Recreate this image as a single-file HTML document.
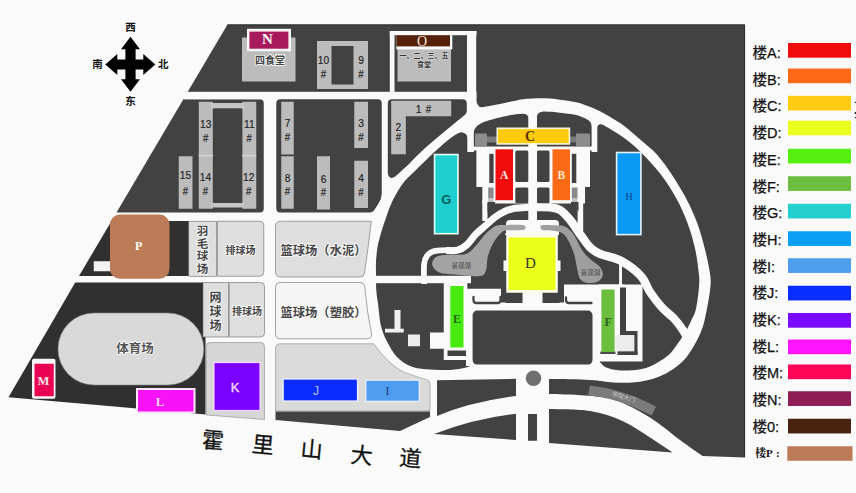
<!DOCTYPE html>
<html><head><meta charset="utf-8"><title>校园地图</title>
<style>html,body{margin:0;padding:0;background:#fafafa}svg{display:block}</style></head>
<body><svg width="856" height="493" viewBox="0 0 856 493">
<rect width="856" height="493" fill="#fafafa"/>
<path d="M227.5,24.5L745.0,24.5L745.0,457.5L702.5,456.0C698.8,453.3 688.8,446.4 680.0,440.0C671.2,433.6 660.8,424.2 650.0,417.5C639.2,410.8 625.8,403.7 615.0,400.0C604.2,396.3 596.0,396.5 585.0,395.5C574.0,394.5 555.0,394.2 549.0,394.0L549.0,375.0L437.0,375.0L437.0,300.0L476.0,300.0L476.0,92.0L187.6,92.0Z" fill="#424242" />
<path d="M227.3,24.9 H744.6 V457" fill="none" stroke="#2a2a2a" stroke-width="0.9"/>
<path d="M183.4,99.25 L259.75,99.25 Q263.75,99.25 263.75,103.25 L263.75,208.5 Q263.75,212.5 259.75,212.5 L116.5,212.5 Z" fill="#424242" />
<path d="M111.5,221.0L189.0,221.0L189.0,276.0L79.0,276.0Z" fill="#303030" />
<path d="M75.2,282.5L203.0,282.5L203.0,337.0L205.5,337.0L205.5,414.5L8.5,397.3Z" fill="#303030" />
<rect x="184.64" y="91.80" width="291.86" height="7.45" fill="#fafafa" />
<rect x="389.80" y="31.00" width="86.70" height="4.20" fill="#fafafa" />
<rect x="389.80" y="31.00" width="4.70" height="62.00" fill="#fafafa" />
<rect x="467.00" y="31.00" width="9.20" height="81.00" fill="#fafafa" />
<path d="M380.0,190.0C384.3,183.9 390.8,180.8 395.6,176.5C400.4,172.2 404.2,168.7 409.0,164.0C413.8,159.3 418.3,154.3 424.6,148.6C430.9,142.9 440.3,135.2 447.0,129.6C453.7,124.0 460.0,118.7 464.8,115.0C469.6,111.3 473.0,108.9 476.0,107.6C479.0,106.3 479.5,107.7 483.0,107.2C486.5,106.7 491.8,105.6 497.0,104.6C502.2,103.6 509.3,101.9 514.0,101.0C518.7,100.1 519.7,99.5 525.0,99.0C530.3,98.5 540.2,98.2 546.0,98.3C551.8,98.4 555.0,99.0 560.0,99.7C565.0,100.4 570.8,100.9 576.2,102.2C581.6,103.5 587.0,105.5 592.4,107.8C597.8,110.1 603.2,112.9 608.6,116.0C614.0,119.1 619.5,122.5 624.9,126.5C630.3,130.6 635.6,135.6 641.0,140.3C646.4,145.0 652.2,149.2 657.3,154.9C662.4,160.6 666.8,167.0 671.6,174.3C676.4,181.6 682.0,190.6 686.3,198.7C690.6,206.8 694.2,214.9 697.2,223.0C700.2,231.1 702.5,239.6 704.5,247.4C706.5,255.2 708.4,263.9 709.4,270.0C710.4,276.1 711.0,277.9 710.6,284.3C710.2,290.8 708.7,300.6 707.0,308.7C705.3,316.8 704.0,324.9 700.5,333.0C697.0,341.1 691.4,351.1 686.3,357.4C681.2,363.7 675.4,367.5 670.0,371.0C664.6,374.5 659.8,376.6 654.0,378.5C648.2,380.4 641.8,381.6 635.0,382.3C628.2,383.0 620.9,382.9 613.4,382.5C605.9,382.1 600.7,380.6 590.0,380.0C579.3,379.4 561.3,379.2 549.0,379.0C536.7,378.8 534.7,378.4 516.0,379.0C497.3,379.6 453.8,383.0 437.0,382.5C420.2,382.0 421.2,378.1 415.0,376.0C408.8,373.9 405.0,373.1 400.0,370.0C395.0,366.9 389.4,361.9 385.0,357.5C380.6,353.1 377.2,353.3 373.8,343.8C370.2,334.2 365.6,315.6 364.0,300.0C362.4,284.4 363.0,264.5 364.0,250.0C365.0,235.5 367.3,223.0 370.0,213.0C372.7,203.0 375.7,196.1 380.0,190.0Z" fill="#fafafa" />
<path d="M280.25,99.25 H377.75 Q381.75,99.25 381.75,103.25 V194 Q381.5,199 378.5,203.5 L374,210.5 Q372.5,212.5 370,212.5 H280.25 Q276.25,212.5 276.25,208.5 V103.25 Q276.25,99.25 280.25,99.25 Z" fill="#424242" />
<path d="M391.8,99.25 H462.5 Q466.8,99.25 466.8,103.5 V111 Q466.8,113.5 464.8,115C461.8,117.4 453.7,124.0 447.0,129.6C440.3,135.2 430.9,142.9 424.6,148.6C418.3,154.3 413.8,159.4 409.0,164.0C404.2,168.6 397.8,174.2 395.6,176.3Q391,180 388.6,176 Q387.8,174.5 387.8,172 V103.25 Q387.8,99.25 391.8,99.25 Z" fill="#424242" />
<path d="M468.0,133.0C469.3,131.8 472.3,127.9 476.0,125.7C479.7,123.5 484.2,121.8 490.0,120.0C495.8,118.2 505.6,116.0 511.0,115.0C516.4,114.0 517.8,114.2 522.3,113.7C526.8,113.2 534.0,112.3 537.7,112.0C541.4,111.7 541.0,111.5 544.7,111.6C548.4,111.7 554.8,112.1 560.0,112.7C565.2,113.3 571.3,113.8 576.2,115.0C581.1,116.2 585.3,118.6 589.2,120.0C593.1,121.4 596.5,121.9 599.7,123.2C602.9,124.5 604.4,125.4 608.6,128.0C612.8,130.6 619.5,134.5 624.9,138.6C630.3,142.7 635.0,146.4 641.0,152.4C647.0,158.4 654.8,166.6 660.7,174.3C666.6,182.0 672.0,190.6 676.5,198.7C681.0,206.8 684.5,214.9 687.5,223.0C690.5,231.1 693.0,239.6 694.8,247.4C696.6,255.2 697.7,263.9 698.4,270.0C699.1,276.1 699.6,277.9 699.2,284.3C698.8,290.8 697.4,302.6 696.0,308.7C694.6,314.8 692.8,316.8 691.0,320.9C689.2,324.9 687.0,329.5 685.0,333.0C683.0,336.5 681.2,338.6 678.8,342.0C676.3,345.4 674.0,349.8 670.2,353.4C666.4,357.0 660.7,360.8 656.0,363.4C651.3,366.0 647.7,367.8 641.8,369.0C635.9,370.2 626.4,370.7 620.5,370.5C614.6,370.3 609.8,369.0 606.3,367.6C602.8,366.2 601.5,362.7 599.2,362.2C596.9,361.7 593.6,364.1 592.5,364.5L472.5,364.5C471.4,365.0 469.8,366.6 466.0,367.5C462.2,368.4 456.7,369.7 450.0,370.0C443.3,370.3 432.7,370.0 426.0,369.3C419.3,368.6 414.8,368.1 410.0,366.0C405.2,363.9 400.8,361.1 397.0,357.0C393.2,352.9 389.7,346.6 387.0,341.4C384.3,336.2 382.5,332.3 381.0,326.0C379.5,319.7 378.8,309.5 378.0,303.5C377.2,297.5 376.6,295.2 376.3,290.0C376.0,284.8 376.1,276.7 376.0,272.0C375.9,267.3 375.8,266.2 376.0,262.0C376.2,257.8 376.8,251.5 377.5,247.0C378.2,242.5 379.5,238.7 380.5,235.0C381.5,231.3 382.6,227.7 383.5,225.0C384.4,222.3 384.6,221.8 385.7,218.7C386.8,215.6 388.3,210.6 390.0,206.5C391.7,202.4 393.7,198.4 396.0,194.3C398.3,190.2 400.7,186.1 404.0,182.0C407.3,177.9 410.7,175.2 416.0,170.0C421.3,164.8 429.9,156.2 435.8,150.8C441.7,145.4 446.9,140.6 451.4,137.4C455.9,134.2 459.8,132.5 462.6,131.8C465.4,131.1 467.1,132.8 468.0,133.0Z" fill="#424242" />
<path d="M437,380.3 L516,378.8 L516,396 Q470,402 437,416 Z" fill="#424242" />
<path d="M434,434 Q475,418 516,413.75 L516,440 Z" fill="#424242" />
<rect x="528.00" y="414.00" width="9.00" height="26.75" fill="#424242" />
<path d="M549,409 C555.8,409.3 577.8,409.0 590.0,411.0C602.2,413.0 612.5,416.6 622.5,421.0C632.5,425.4 641.7,432.2 650.0,437.5C658.3,442.8 668.8,450.0 672.5,452.5L549,443 Z" fill="#424242" />
<circle cx="533.5" cy="378.3" r="7.8" fill="#6f6f6f"/>
<rect x="467.30" y="120.00" width="6.50" height="32.00" fill="#fafafa" />
<rect x="528.30" y="105.00" width="8.70" height="131.00" fill="#fafafa" />
<rect x="591.60" y="112.00" width="5.70" height="40.00" fill="#fafafa" />
<path d="M475.7,99 L475.7,109 L484,108.2 Q476.6,107.6 476.2,99 Z" fill="#fafafa" />
<path d="M528.8,111.5 L528.8,119 Q528.3,113.6 523,113.7 L523,111.5 Z" fill="#fafafa" />
<path d="M536.5,110 L536.5,118 Q537,112.3 542.5,111.8 L542.5,110 Z" fill="#fafafa" />
<path d="M473.3,124 L473.3,134 Q473.8,127.6 480.5,123.6 L479.5,121.5 Z" fill="#fafafa" />
<path d="M468,130.5 L468,139 Q467.3,133 461.5,132.2 L461.5,130 Z" fill="#fafafa" />
<path d="M592.1,118 L592.1,127 Q591.6,121 586,118.7 L586.5,116.5 Z" fill="#fafafa" />
<path d="M596.8,120 L596.8,129 Q597.3,123 602.5,124.6 L603.5,122.5 Z" fill="#fafafa" />
<path d="M424.1,284.0C424.1,280.7 423.6,268.7 424.1,264.0C424.6,259.3 425.2,258.1 427.1,255.8C429.0,253.6 430.2,251.7 435.3,250.8C440.4,249.8 455.2,250.3 457.6,250.2C460.1,250.1 451.3,250.3 450.0,250.3" fill="none" stroke="#fafafa" stroke-width="5.8"/>
<path d="M446.0,250.4C447.9,250.4 454.2,251.1 457.6,250.2C461.1,249.3 463.7,247.6 466.7,245.0C469.7,242.4 472.4,237.7 475.5,234.5C478.6,231.3 481.8,228.9 485.0,226.0C488.2,223.1 491.7,219.8 495.0,217.3C498.3,214.8 501.7,212.7 505.0,211.2C508.3,209.7 511.0,209.0 515.0,208.3C519.0,207.7 526.7,207.5 529.0,207.3" fill="none" stroke="#fafafa" stroke-width="7"/>
<path d="M536.0,207.2C538.3,207.2 546.0,206.9 550.0,207.4C554.0,207.9 556.7,207.9 560.0,210.0C563.3,212.1 566.6,215.7 570.0,219.8C573.4,223.9 576.9,229.8 580.3,234.5C583.7,239.2 587.0,244.5 590.4,247.8C593.8,251.1 595.5,252.0 600.6,254.2C605.7,256.4 614.1,257.1 620.8,260.8C627.5,264.5 636.1,270.9 641.0,276.1C645.9,281.3 646.5,286.8 650.0,292.0C653.5,297.2 658.0,303.1 662.0,307.5C666.0,311.9 670.4,314.6 674.0,318.5C677.6,322.4 680.9,327.0 683.5,331.0C686.1,335.0 688.5,340.6 689.5,342.5" fill="none" stroke="#fafafa" stroke-width="8.4"/>
<rect x="370.00" y="275.80" width="101.00" height="7.40" fill="#fafafa" />
<rect x="472.00" y="146.50" width="123.00" height="4.00" fill="#fafafa" />
<rect x="476.40" y="147.00" width="113.60" height="40.00" fill="#fafafa" />
<rect x="482.30" y="186.00" width="102.70" height="17.50" fill="#fafafa" />
<rect x="482.30" y="200.00" width="5.20" height="21.00" fill="#fafafa" />
<rect x="577.60" y="200.00" width="5.60" height="31.00" fill="#fafafa" />
<rect x="489.30" y="153.80" width="4.30" height="29.20" fill="#424242" />
<rect x="515.30" y="150.60" width="13.00" height="31.40" fill="#424242" rx="1.5" />
<rect x="537.00" y="150.60" width="12.50" height="31.40" fill="#424242" rx="1.5" />
<rect x="571.80" y="153.80" width="4.50" height="29.20" fill="#424242" />
<rect x="515.30" y="187.50" width="13.00" height="15.70" fill="#424242" rx="1.5" />
<rect x="537.00" y="187.50" width="12.50" height="15.70" fill="#424242" rx="1.5" />
<rect x="488.20" y="187.50" width="5.40" height="10.50" fill="#8a8a8a" />
<rect x="571.80" y="187.50" width="5.70" height="10.50" fill="#8a8a8a" />
<rect x="488.20" y="198.00" width="5.40" height="4.00" fill="#c0c0c0" />
<rect x="571.80" y="198.00" width="5.70" height="4.00" fill="#c0c0c0" />
<path d="M487.5,202 H495 V204 Q490,206 487.5,212 Z" fill="#424242" />
<path d="M578.5,202 H571 V204 Q576,206 578.5,212 Z" fill="#424242" />
<rect x="475.00" y="133.40" width="12.00" height="13.20" fill="#8c8c8c" rx="1" />
<rect x="487.00" y="136.50" width="10.00" height="6.00" fill="#7a7a7a" />
<rect x="576.00" y="133.40" width="14.00" height="12.60" fill="#8c8c8c" rx="1" />
<rect x="570.00" y="136.50" width="6.00" height="6.00" fill="#7a7a7a" />
<path d="M506,236 V224 Q506,220 510,220 H555 Q559,220 559,224 V236 Z" fill="#fafafa" />
<path d="M432.2,265.0C431.6,262.4 433.5,258.7 436.0,257.0C438.5,255.3 442.1,255.3 447.0,254.8C451.9,254.3 460.9,255.5 465.7,254.0C470.5,252.5 472.5,249.1 475.9,245.7C479.3,242.3 482.6,236.8 486.0,233.5C489.4,230.2 492.6,227.2 496.0,225.8C499.4,224.4 501.7,225.1 506.3,225.0C510.9,224.9 520.8,224.5 523.7,225.3C526.6,226.1 526.3,229.0 523.7,229.8C521.1,230.6 511.6,229.9 508.0,230.3C504.4,230.7 504.5,230.1 502.2,232.0C499.9,233.9 496.4,237.7 494.0,241.7C491.6,245.7 489.3,251.1 488.0,255.8C486.7,260.5 487.3,266.6 486.0,270.0C484.7,273.4 485.1,275.2 480.0,276.0C474.9,276.8 462.4,275.1 455.6,274.5C448.8,273.9 443.2,274.1 439.3,272.5C435.4,270.9 432.8,267.6 432.2,265.0Z" fill="#a3a3a3" />
<path d="M541.7,225.3C544.1,224.6 552.0,225.0 556.0,225.3C560.0,225.6 563.0,225.4 566.0,227.0C569.0,228.6 571.3,231.2 574.0,235.0C576.7,238.8 579.3,246.0 582.0,250.0C584.7,254.0 587.0,256.2 590.0,259.0C593.0,261.8 597.9,264.3 600.0,267.0C602.1,269.7 603.1,272.6 602.8,275.0C602.5,277.4 600.5,280.2 598.0,281.5C595.5,282.8 591.0,283.4 588.0,283.0C585.0,282.6 581.8,281.5 580.0,279.0C578.2,276.5 578.0,272.2 577.0,268.0C576.0,263.8 575.5,258.7 574.0,254.0C572.5,249.3 570.2,243.6 568.0,240.0C565.8,236.4 564.3,234.1 561.0,232.5C557.7,230.9 551.2,230.8 548.0,230.3C544.8,229.9 542.8,230.6 541.7,229.8C540.7,229.0 539.3,226.1 541.7,225.3Z" fill="#9e9e9e" />
<text x="461.20" y="268.30" font-size="6.5" fill="#4a4a4a" font-family="'Liberation Sans','Noto Sans CJK SC',sans-serif" font-weight="normal" text-anchor="middle" >景观湖</text>
<text x="590.40" y="274.50" font-size="6.5" fill="#4a4a4a" font-family="'Liberation Sans','Noto Sans CJK SC',sans-serif" font-weight="normal" text-anchor="middle" >景观湖</text>
<rect x="466.00" y="288.75" width="134.00" height="21.75" fill="#fafafa" />
<rect x="466.00" y="304.00" width="134.00" height="62.00" fill="#fafafa" />
<rect x="472.60" y="310.60" width="119.90" height="54.00" fill="#424242" rx="4.5" />
<rect x="505.00" y="233.50" width="54.00" height="70.50" fill="#fafafa" />
<rect x="501.00" y="235.00" width="5.50" height="67.50" fill="#424242" />
<rect x="557.60" y="235.00" width="6.40" height="67.50" fill="#424242" />
<rect x="503.50" y="260.50" width="3.50" height="10.50" fill="#fafafa" />
<rect x="557.00" y="260.50" width="3.50" height="10.50" fill="#fafafa" />
<rect x="506.00" y="292.50" width="16.50" height="10.50" fill="#424242" />
<rect x="542.50" y="292.50" width="17.00" height="10.50" fill="#424242" />
<rect x="506.50" y="235.00" width="51.00" height="57.50" fill="#fdfde8" />
<rect x="508.50" y="237.50" width="47.00" height="52.50" fill="#eaff1a" />
<path d="M473.5,297 v3 q0,3 3,3 h21 q3,0 3,-3 v-3" fill="none" stroke="#424242" stroke-width="2.3" stroke-linecap="round"/>
<path d="M566,297.5 v2.5 q0,3 3,3 h22.5" fill="none" stroke="#424242" stroke-width="2.3" stroke-linecap="round"/>
<rect x="443.75" y="282.00" width="23.55" height="78.00" fill="#fafafa" />
<rect x="430.00" y="332.50" width="16.00" height="16.25" fill="#fafafa" />
<rect x="447.50" y="350.50" width="18.50" height="5.50" fill="#424242" />
<rect x="450.30" y="286.00" width="13.20" height="61.50" fill="#46ea10" />
<rect x="394.50" y="310.00" width="6.00" height="19.00" fill="#f0f0f0" />
<rect x="385.00" y="328.75" width="18.75" height="3.75" fill="#f0f0f0" />
<rect x="408.00" y="334.50" width="12.00" height="11.75" fill="#ececec" />
<rect x="564.00" y="284.50" width="60.00" height="11.50" fill="#fafafa" />
<rect x="598.80" y="284.50" width="43.70" height="77.00" fill="#fafafa" />
<rect x="620.00" y="287.50" width="6.00" height="47.50" fill="#424242" />
<rect x="620.00" y="331.00" width="17.50" height="4.20" fill="#424242" />
<rect x="634.20" y="335.00" width="3.30" height="20.00" fill="#424242" />
<rect x="617.50" y="351.20" width="20.00" height="3.80" fill="#424242" />
<rect x="600.30" y="351.50" width="15.20" height="2.50" fill="#4a4a4a" />
<rect x="615.40" y="335.20" width="18.80" height="16.00" fill="#ececec" />
<rect x="601.40" y="289.50" width="13.20" height="62.50" fill="#6abf3f" />
<rect x="619.10" y="262.00" width="2.90" height="24.00" fill="#fafafa" />
<rect x="188.75" y="221.25" width="27.75" height="55.00" fill="#dedede" stroke="#6a6a6a" stroke-width="0.6"/>
<path d="M217.5,221.25 H259.75 Q263.75,221.25 263.75,225.25 V272.25 Q263.75,276.25 259.75,276.25 H217.5 Z" fill="#dedede" stroke="#6a6a6a" stroke-width="0.6"/>
<path d="M280.5,221.25 H371.25 Q368,250 364.5,273 Q364,277 360,277 H280.5 Q275.5,277 275.5,272 V226.25 Q275.5,221.25 280.5,221.25 Z" fill="#dedede" stroke="#6a6a6a" stroke-width="0.6"/>
<rect x="203.00" y="282.50" width="25.30" height="54.50" fill="#dedede" stroke="#6a6a6a" stroke-width="0.6"/>
<path d="M229.25,282.5 H260.5 Q264.5,282.5 264.5,286.5 V333 Q264.5,337 260.5,337 H229.25 Z" fill="#dedede" stroke="#6a6a6a" stroke-width="0.6"/>
<path d="M280.5,282.5 H360 Q364.3,282.5 364.8,287 Q367,312 371.5,334 Q372,338.75 367,338.75 H280.5 Q275.5,338.75 275.5,333.75 V287.5 Q275.5,282.5 280.5,282.5 Z" fill="#f5f5f5" stroke="#6a6a6a" stroke-width="0.6"/>
<path d="M206.25,346.5 Q206.25,342.5 210.25,342.5 H260.5 Q264.5,342.5 264.5,346.5 V419.5 L206.25,415 Z" fill="#d6d6d6" stroke="#777" stroke-width="0.5"/>
<path d="M275.5,348.75 Q275.5,343.75 280.5,343.75 H373.75C375.6,346.0 380.6,353.1 385.0,357.5C389.4,361.9 395.0,366.9 400.0,370.0C405.0,373.1 410.4,374.3 415.0,376.0C419.6,377.7 425.4,379.3 427.5,380.0Q430,381 430,384 V411 H275.5 Z" fill="#dadada" stroke="#777" stroke-width="0.5"/>
<path d="M275.5,411.5L430.0,411.5L430.0,417.0L400.0,431.0L275.5,420.0Z" fill="#424242" />
<rect x="58.00" y="313.00" width="145.75" height="72.00" fill="#d9d9d9" rx="36" stroke="#8a8a8a" stroke-width="0.6"/>
<rect x="93.75" y="261.25" width="18.25" height="10.00" fill="#f2f2f2" />
<rect x="110.00" y="214.50" width="59.50" height="64.25" fill="#bb7b56" rx="10" />
<rect x="242.00" y="37.50" width="53.50" height="44.00" fill="#bcbcbc" />
<rect x="247.00" y="28.80" width="44.00" height="22.40" fill="#fdf6f9" />
<rect x="249.40" y="31.60" width="39.00" height="17.10" fill="#a8195c" />
<rect x="317.00" y="41.00" width="51.00" height="48.00" fill="#bcbcbc" />
<rect x="331.50" y="46.00" width="22.00" height="38.50" fill="#424242" />
<rect x="397.50" y="48.50" width="53.50" height="33.00" fill="#bcbcbc" />
<rect x="396.40" y="35.20" width="55.90" height="14.20" fill="#fbfbfb" />
<rect x="396.40" y="35.20" width="53.60" height="11.20" fill="#55230a" />
<path d="M391.2,100.8L451.2,100.8L451.2,116.2L405.8,116.2L405.8,154.2L391.2,154.2Z" fill="#bcbcbc" />
<rect x="198.75" y="101.75" width="14.05" height="107.00" fill="#bcbcbc" />
<rect x="242.40" y="101.75" width="13.85" height="107.00" fill="#bcbcbc" />
<rect x="211.00" y="103.00" width="33.00" height="6.00" fill="#c6c6c6" />
<rect x="211.00" y="202.50" width="33.00" height="5.00" fill="#c6c6c6" />
<rect x="213.25" y="108.30" width="28.75" height="94.70" fill="#424242" />
<rect x="198.75" y="155.00" width="14.50" height="1.20" fill="#d8d8d8" />
<rect x="242.00" y="155.00" width="14.25" height="1.20" fill="#d8d8d8" />
<rect x="178.75" y="156.25" width="13.75" height="52.50" fill="#bcbcbc" />
<rect x="281.25" y="101.75" width="12.50" height="52.75" fill="#bcbcbc" />
<rect x="281.25" y="156.25" width="12.50" height="52.50" fill="#bcbcbc" />
<rect x="354.25" y="101.75" width="13.75" height="46.25" fill="#bcbcbc" />
<rect x="354.25" y="160.75" width="13.75" height="47.25" fill="#bcbcbc" />
<rect x="317.00" y="156.25" width="13.00" height="53.25" fill="#bcbcbc" />
<rect x="496.50" y="127.50" width="73.70" height="17.20" fill="#fff8dc" />
<rect x="498.10" y="129.10" width="70.50" height="14.00" fill="#ffcb0c" />
<rect x="495.50" y="149.30" width="17.50" height="50.90" fill="#f20d0d" />
<rect x="552.50" y="149.30" width="17.50" height="50.90" fill="#fb6a17" />
<rect x="433.75" y="153.75" width="25.00" height="80.75" fill="#e8ffff" />
<rect x="435.35" y="155.35" width="21.80" height="77.55" fill="#1fcfd0" />
<rect x="615.80" y="151.70" width="25.90" height="83.70" fill="#e4f4ff" />
<rect x="617.40" y="153.30" width="22.70" height="80.50" fill="#0a9af5" />
<rect x="282.50" y="378.30" width="75.70" height="23.40" fill="#eef2ff" />
<rect x="283.80" y="379.60" width="73.10" height="20.80" fill="#0a2cff" />
<rect x="365.20" y="379.60" width="54.60" height="22.30" fill="#eaf3ff" />
<rect x="366.40" y="380.80" width="52.20" height="19.90" fill="#4f9cf0" />
<rect x="213.20" y="361.70" width="47.60" height="49.60" fill="#f0d8ff" />
<rect x="214.60" y="363.10" width="44.80" height="46.80" fill="#7a00ff" />
<rect x="136.00" y="388.00" width="59.50" height="25.50" fill="#ffe8ff" />
<rect x="138.00" y="390.00" width="55.50" height="21.50" fill="#f812f8" />
<rect x="32.00" y="358.75" width="23.50" height="40.00" fill="#f6f6f6" rx="2" />
<rect x="34.50" y="363.75" width="19.25" height="32.50" fill="#ea0052" />
<path d="M589.0,390.5C592.5,391.1 602.8,392.2 610.0,394.0C617.2,395.8 624.7,398.2 632.0,401.0C639.3,403.8 650.3,409.3 654.0,411.0" fill="none" stroke="#7b7b7b" stroke-width="10" stroke-linecap="butt"/>
<text font-size="6" fill="#c8c8c8" font-family="'Liberation Sans','Noto Sans CJK SC',sans-serif" text-anchor="middle" transform="translate(623,399) rotate(17)">学院大门</text>
<text font-size="11.6" fill="#242424" stroke="#242424" stroke-width="0.2" font-family="'Liberation Sans','Noto Sans CJK SC',sans-serif" text-anchor="middle" transform="translate(205.75,127.95) scale(0.88,1)">13</text>
<text font-size="11.3" fill="#242424" stroke="#242424" stroke-width="0.2" font-family="'Liberation Sans','Noto Sans CJK SC',sans-serif" text-anchor="middle" transform="translate(205.75,141.50) scale(0.85,1)">#</text>
<text font-size="11.6" fill="#242424" stroke="#242424" stroke-width="0.2" font-family="'Liberation Sans','Noto Sans CJK SC',sans-serif" text-anchor="middle" transform="translate(249.25,127.95) scale(0.88,1)">11</text>
<text font-size="11.3" fill="#242424" stroke="#242424" stroke-width="0.2" font-family="'Liberation Sans','Noto Sans CJK SC',sans-serif" text-anchor="middle" transform="translate(249.25,141.50) scale(0.85,1)">#</text>
<text font-size="11.6" fill="#242424" stroke="#242424" stroke-width="0.2" font-family="'Liberation Sans','Noto Sans CJK SC',sans-serif" text-anchor="middle" transform="translate(205.50,180.70) scale(0.88,1)">14</text>
<text font-size="11.3" fill="#242424" stroke="#242424" stroke-width="0.2" font-family="'Liberation Sans','Noto Sans CJK SC',sans-serif" text-anchor="middle" transform="translate(205.50,195.00) scale(0.85,1)">#</text>
<text font-size="11.6" fill="#242424" stroke="#242424" stroke-width="0.2" font-family="'Liberation Sans','Noto Sans CJK SC',sans-serif" text-anchor="middle" transform="translate(248.75,180.70) scale(0.88,1)">12</text>
<text font-size="11.3" fill="#242424" stroke="#242424" stroke-width="0.2" font-family="'Liberation Sans','Noto Sans CJK SC',sans-serif" text-anchor="middle" transform="translate(248.75,195.00) scale(0.85,1)">#</text>
<text font-size="11.6" fill="#242424" stroke="#242424" stroke-width="0.2" font-family="'Liberation Sans','Noto Sans CJK SC',sans-serif" text-anchor="middle" transform="translate(185.50,178.70) scale(0.88,1)">15</text>
<text font-size="11.3" fill="#242424" stroke="#242424" stroke-width="0.2" font-family="'Liberation Sans','Noto Sans CJK SC',sans-serif" text-anchor="middle" transform="translate(185.50,195.00) scale(0.85,1)">#</text>
<text font-size="11.6" fill="#242424" stroke="#242424" stroke-width="0.2" font-family="'Liberation Sans','Noto Sans CJK SC',sans-serif" text-anchor="middle" transform="translate(287.50,127.20) scale(0.88,1)">7</text>
<text font-size="11.3" fill="#242424" stroke="#242424" stroke-width="0.2" font-family="'Liberation Sans','Noto Sans CJK SC',sans-serif" text-anchor="middle" transform="translate(287.50,141.00) scale(0.85,1)">#</text>
<text font-size="11.6" fill="#242424" stroke="#242424" stroke-width="0.2" font-family="'Liberation Sans','Noto Sans CJK SC',sans-serif" text-anchor="middle" transform="translate(287.50,181.70) scale(0.88,1)">8</text>
<text font-size="11.3" fill="#242424" stroke="#242424" stroke-width="0.2" font-family="'Liberation Sans','Noto Sans CJK SC',sans-serif" text-anchor="middle" transform="translate(287.50,195.00) scale(0.85,1)">#</text>
<text font-size="11.6" fill="#242424" stroke="#242424" stroke-width="0.2" font-family="'Liberation Sans','Noto Sans CJK SC',sans-serif" text-anchor="middle" transform="translate(361.00,127.20) scale(0.88,1)">3</text>
<text font-size="11.3" fill="#242424" stroke="#242424" stroke-width="0.2" font-family="'Liberation Sans','Noto Sans CJK SC',sans-serif" text-anchor="middle" transform="translate(361.00,141.00) scale(0.85,1)">#</text>
<text font-size="11.6" fill="#242424" stroke="#242424" stroke-width="0.2" font-family="'Liberation Sans','Noto Sans CJK SC',sans-serif" text-anchor="middle" transform="translate(361.00,182.20) scale(0.88,1)">4</text>
<text font-size="11.3" fill="#242424" stroke="#242424" stroke-width="0.2" font-family="'Liberation Sans','Noto Sans CJK SC',sans-serif" text-anchor="middle" transform="translate(361.00,195.50) scale(0.85,1)">#</text>
<text font-size="11.6" fill="#242424" stroke="#242424" stroke-width="0.2" font-family="'Liberation Sans','Noto Sans CJK SC',sans-serif" text-anchor="middle" transform="translate(323.50,182.70) scale(0.88,1)">6</text>
<text font-size="11.3" fill="#242424" stroke="#242424" stroke-width="0.2" font-family="'Liberation Sans','Noto Sans CJK SC',sans-serif" text-anchor="middle" transform="translate(323.50,196.00) scale(0.85,1)">#</text>
<text font-size="11.6" fill="#242424" stroke="#242424" stroke-width="0.2" font-family="'Liberation Sans','Noto Sans CJK SC',sans-serif" text-anchor="middle" transform="translate(398.30,131.20) scale(0.88,1)">2</text>
<text font-size="11.3" fill="#242424" stroke="#242424" stroke-width="0.2" font-family="'Liberation Sans','Noto Sans CJK SC',sans-serif" text-anchor="middle" transform="translate(398.30,141.30) scale(0.85,1)">#</text>
<text font-size="11.6" fill="#242424" stroke="#242424" stroke-width="0.2" font-family="'Liberation Sans','Noto Sans CJK SC',sans-serif" text-anchor="middle" transform="translate(418.50,113.00) scale(0.88,1)">1</text>
<text font-size="11.3" fill="#242424" stroke="#242424" stroke-width="0.2" font-family="'Liberation Sans','Noto Sans CJK SC',sans-serif" text-anchor="middle" transform="translate(428.50,112.80) scale(0.85,1)">#</text>
<text font-size="11.6" fill="#242424" stroke="#242424" stroke-width="0.2" font-family="'Liberation Sans','Noto Sans CJK SC',sans-serif" text-anchor="middle" transform="translate(323.50,64.20) scale(0.88,1)">10</text>
<text font-size="11.3" fill="#242424" stroke="#242424" stroke-width="0.2" font-family="'Liberation Sans','Noto Sans CJK SC',sans-serif" text-anchor="middle" transform="translate(323.50,77.50) scale(0.85,1)">#</text>
<text font-size="11.6" fill="#242424" stroke="#242424" stroke-width="0.2" font-family="'Liberation Sans','Noto Sans CJK SC',sans-serif" text-anchor="middle" transform="translate(361.00,64.20) scale(0.88,1)">9</text>
<text font-size="11.3" fill="#242424" stroke="#242424" stroke-width="0.2" font-family="'Liberation Sans','Noto Sans CJK SC',sans-serif" text-anchor="middle" transform="translate(361.00,77.50) scale(0.85,1)">#</text>
<text x="270.00" y="63.50" font-size="10" fill="#444" font-family="'Liberation Sans','Noto Sans CJK SC',sans-serif" font-weight="bold" text-anchor="middle" stroke="#fff" stroke-width="1.6" paint-order="stroke" stroke-linejoin="round">四食堂</text>
<text x="424.00" y="58.00" font-size="7" fill="#333" font-family="'Liberation Sans','Noto Sans CJK SC',sans-serif" font-weight="bold" text-anchor="middle" stroke="#eee" stroke-width="0.6" paint-order="stroke">一、二、三、五</text>
<text x="424.00" y="66.50" font-size="7" fill="#333" font-family="'Liberation Sans','Noto Sans CJK SC',sans-serif" font-weight="bold" text-anchor="middle" stroke="#eee" stroke-width="0.6" paint-order="stroke">食堂</text>
<text x="202.50" y="235.00" font-size="11.5" fill="#444" font-family="'Liberation Sans','Noto Sans CJK SC',sans-serif" font-weight="bold" text-anchor="middle" stroke="#fff" stroke-width="1.6" paint-order="stroke" stroke-linejoin="round">羽</text>
<text x="202.50" y="247.60" font-size="11.5" fill="#444" font-family="'Liberation Sans','Noto Sans CJK SC',sans-serif" font-weight="bold" text-anchor="middle" stroke="#fff" stroke-width="1.6" paint-order="stroke" stroke-linejoin="round">毛</text>
<text x="202.50" y="260.20" font-size="11.5" fill="#444" font-family="'Liberation Sans','Noto Sans CJK SC',sans-serif" font-weight="bold" text-anchor="middle" stroke="#fff" stroke-width="1.6" paint-order="stroke" stroke-linejoin="round">球</text>
<text x="202.50" y="272.80" font-size="11.5" fill="#444" font-family="'Liberation Sans','Noto Sans CJK SC',sans-serif" font-weight="bold" text-anchor="middle" stroke="#fff" stroke-width="1.6" paint-order="stroke" stroke-linejoin="round">场</text>
<text x="240.50" y="254.00" font-size="10" fill="#444" font-family="'Liberation Sans','Noto Sans CJK SC',sans-serif" font-weight="bold" text-anchor="middle" stroke="#fff" stroke-width="1.6" paint-order="stroke" stroke-linejoin="round">排球场</text>
<text x="323.50" y="255.30" font-size="12.3" fill="#444" font-family="'Liberation Sans','Noto Sans CJK SC',sans-serif" font-weight="bold" text-anchor="middle" stroke="#fff" stroke-width="1.6" paint-order="stroke" stroke-linejoin="round">篮球场（水泥）</text>
<text x="215.50" y="301.70" font-size="12" fill="#444" font-family="'Liberation Sans','Noto Sans CJK SC',sans-serif" font-weight="bold" text-anchor="middle" stroke="#fff" stroke-width="1.6" paint-order="stroke" stroke-linejoin="round">网</text>
<text x="215.50" y="316.00" font-size="12" fill="#444" font-family="'Liberation Sans','Noto Sans CJK SC',sans-serif" font-weight="bold" text-anchor="middle" stroke="#fff" stroke-width="1.6" paint-order="stroke" stroke-linejoin="round">球</text>
<text x="215.50" y="330.30" font-size="12" fill="#444" font-family="'Liberation Sans','Noto Sans CJK SC',sans-serif" font-weight="bold" text-anchor="middle" stroke="#fff" stroke-width="1.6" paint-order="stroke" stroke-linejoin="round">场</text>
<text x="247.00" y="314.70" font-size="10" fill="#444" font-family="'Liberation Sans','Noto Sans CJK SC',sans-serif" font-weight="bold" text-anchor="middle" stroke="#fff" stroke-width="1.6" paint-order="stroke" stroke-linejoin="round">排球场</text>
<text x="323.50" y="316.70" font-size="12.3" fill="#444" font-family="'Liberation Sans','Noto Sans CJK SC',sans-serif" font-weight="bold" text-anchor="middle" stroke="#fff" stroke-width="1.6" paint-order="stroke" stroke-linejoin="round">篮球场（塑胶）</text>
<text x="135.00" y="353.30" font-size="12.5" fill="#555" font-family="'Liberation Sans','Noto Sans CJK SC',sans-serif" font-weight="bold" text-anchor="middle" stroke="#fff" stroke-width="1.6" paint-order="stroke" stroke-linejoin="round">体育场</text>
<text x="267.40" y="44.00" font-size="15" fill="#fff" font-family="'Liberation Serif','Noto Serif CJK SC',serif" font-weight="bold" text-anchor="middle" >N</text>
<text x="422.00" y="46.00" font-size="14" fill="#ffe8d0" font-family="'Liberation Serif','Noto Serif CJK SC',serif" font-weight="normal" text-anchor="middle" >O</text>
<text x="138.75" y="249.70" font-size="12" fill="#fff" font-family="'Liberation Serif','Noto Serif CJK SC',serif" font-weight="bold" text-anchor="middle" >P</text>
<text x="43.30" y="385.00" font-size="12.5" fill="#ffe6ee" font-family="'Liberation Serif','Noto Serif CJK SC',serif" font-weight="bold" text-anchor="middle" >M</text>
<text x="160.00" y="406.30" font-size="13" fill="#ffd0ff" font-family="'Liberation Serif','Noto Serif CJK SC',serif" font-weight="bold" text-anchor="middle" >L</text>
<text x="235.20" y="392.30" font-size="13" fill="#f3d9ff" font-family="'Liberation Sans','Noto Sans CJK SC',sans-serif" font-weight="normal" text-anchor="middle" stroke="#f3d9ff" stroke-width="0.4">K</text>
<text x="316.00" y="394.50" font-size="12" fill="#b8c4ff" font-family="'Liberation Sans','Noto Sans CJK SC',sans-serif" font-weight="normal" text-anchor="middle" >J</text>
<text x="387.50" y="395.00" font-size="12" fill="#1c3f70" font-family="'Liberation Serif','Noto Serif CJK SC',serif" font-weight="normal" text-anchor="middle" >I</text>
<text x="504.20" y="179.00" font-size="11.5" fill="#ffeaea" font-family="'Liberation Serif','Noto Serif CJK SC',serif" font-weight="bold" text-anchor="middle" >A</text>
<text x="561.30" y="179.00" font-size="11.5" fill="#ffe9c8" font-family="'Liberation Serif','Noto Serif CJK SC',serif" font-weight="bold" text-anchor="middle" >B</text>
<text x="530.00" y="141.00" font-size="14" fill="#5a3000" font-family="'Liberation Serif','Noto Serif CJK SC',serif" font-weight="bold" text-anchor="middle" >C</text>
<text x="530.50" y="267.50" font-size="15" fill="#333" font-family="'Liberation Serif','Noto Serif CJK SC',serif" font-weight="normal" text-anchor="middle" >D</text>
<text x="457.00" y="322.80" font-size="12" fill="#1f6b10" font-family="'Liberation Serif','Noto Serif CJK SC',serif" font-weight="bold" text-anchor="middle" >E</text>
<text x="608.20" y="326.00" font-size="12" fill="#2f5f1a" font-family="'Liberation Serif','Noto Serif CJK SC',serif" font-weight="bold" text-anchor="middle" >F</text>
<text x="446.30" y="203.50" font-size="13" fill="#0a5f5f" font-family="'Liberation Sans','Noto Sans CJK SC',sans-serif" font-weight="bold" text-anchor="middle" >G</text>
<text x="629.00" y="199.50" font-size="10" fill="#0a3f7f" font-family="'Liberation Serif','Noto Serif CJK SC',serif" font-weight="normal" text-anchor="middle" >H</text>
<path d="M125.4,59.4L125.4,49.2L121.0,49.2L130.5,36.7L140.0,49.2L135.6,49.2L135.6,59.4L135.6,59.4L143.3,59.4L143.3,53.9L155.3,64.5L143.3,75.1L143.3,69.6L135.6,69.6L135.6,69.6L135.6,79.2L140.0,79.2L130.5,91.7L121.0,79.2L125.4,79.2L125.4,69.6L125.4,69.6L117.3,69.6L117.3,75.1L105.3,64.5L117.3,53.9L117.3,59.4L125.4,59.4Z" fill="#000" />
<text x="130.50" y="30.70" font-size="10.5" fill="#111" font-family="'Liberation Sans','Noto Sans CJK SC',sans-serif" font-weight="bold" text-anchor="middle" >西</text>
<text x="130.50" y="105.00" font-size="10.5" fill="#111" font-family="'Liberation Sans','Noto Sans CJK SC',sans-serif" font-weight="bold" text-anchor="middle" >东</text>
<text x="97.50" y="68.30" font-size="10.5" fill="#111" font-family="'Liberation Sans','Noto Sans CJK SC',sans-serif" font-weight="bold" text-anchor="middle" >南</text>
<text x="163.30" y="68.30" font-size="10.5" fill="#111" font-family="'Liberation Sans','Noto Sans CJK SC',sans-serif" font-weight="bold" text-anchor="middle" >北</text>
<text font-size="22" fill="#111" stroke="#111" stroke-width="0.3" font-family="'Liberation Sans','Noto Sans CJK SC',sans-serif" text-anchor="middle" transform="translate(212.8,440.4) rotate(5.3)" y="7.8">霍</text>
<text font-size="22" fill="#111" stroke="#111" stroke-width="0.3" font-family="'Liberation Sans','Noto Sans CJK SC',sans-serif" text-anchor="middle" transform="translate(263.0,445.0) rotate(5.3)" y="7.8">里</text>
<text font-size="22" fill="#111" stroke="#111" stroke-width="0.3" font-family="'Liberation Sans','Noto Sans CJK SC',sans-serif" text-anchor="middle" transform="translate(311.6,449.5) rotate(5.3)" y="7.8">山</text>
<text font-size="22" fill="#111" stroke="#111" stroke-width="0.3" font-family="'Liberation Sans','Noto Sans CJK SC',sans-serif" text-anchor="middle" transform="translate(361.7,455.6) rotate(5.3)" y="7.8">大</text>
<text font-size="22" fill="#111" stroke="#111" stroke-width="0.3" font-family="'Liberation Sans','Noto Sans CJK SC',sans-serif" text-anchor="middle" transform="translate(410.4,458.6) rotate(5.3)" y="7.8">道</text>
<rect x="788.00" y="43.00" width="63.00" height="14.70" fill="#f00c0c" />
<text x="752.50" y="58.10" font-size="14.5" fill="#111" font-family="'Liberation Sans','Noto Sans CJK SC',sans-serif" font-weight="normal" text-anchor="start" stroke="#111" stroke-width="0.25">楼A:</text>
<rect x="788.00" y="68.50" width="63.00" height="14.70" fill="#ff6a1a" />
<text x="752.50" y="84.78" font-size="14.5" fill="#111" font-family="'Liberation Sans','Noto Sans CJK SC',sans-serif" font-weight="normal" text-anchor="start" stroke="#111" stroke-width="0.25">楼B:</text>
<rect x="788.00" y="95.80" width="63.00" height="14.70" fill="#ffcc12" />
<text x="752.50" y="111.46" font-size="14.5" fill="#111" font-family="'Liberation Sans','Noto Sans CJK SC',sans-serif" font-weight="normal" text-anchor="start" stroke="#111" stroke-width="0.25">楼C:</text>
<rect x="788.00" y="120.60" width="63.00" height="14.70" fill="#eaff20" />
<text x="752.50" y="138.14" font-size="14.5" fill="#111" font-family="'Liberation Sans','Noto Sans CJK SC',sans-serif" font-weight="normal" text-anchor="start" stroke="#111" stroke-width="0.25">楼D:</text>
<rect x="788.00" y="148.75" width="63.00" height="14.70" fill="#55f010" />
<text x="752.50" y="164.82" font-size="14.5" fill="#111" font-family="'Liberation Sans','Noto Sans CJK SC',sans-serif" font-weight="normal" text-anchor="start" stroke="#111" stroke-width="0.25">楼E:</text>
<rect x="788.00" y="176.25" width="63.00" height="14.70" fill="#6dbe40" />
<text x="752.50" y="191.50" font-size="14.5" fill="#111" font-family="'Liberation Sans','Noto Sans CJK SC',sans-serif" font-weight="normal" text-anchor="start" stroke="#111" stroke-width="0.25">楼F:</text>
<rect x="788.00" y="203.75" width="63.00" height="14.70" fill="#22d0d0" />
<text x="752.50" y="218.18" font-size="14.5" fill="#111" font-family="'Liberation Sans','Noto Sans CJK SC',sans-serif" font-weight="normal" text-anchor="start" stroke="#111" stroke-width="0.25">楼G:</text>
<rect x="788.00" y="231.25" width="63.00" height="14.70" fill="#0a9ef5" />
<text x="752.50" y="244.86" font-size="14.5" fill="#111" font-family="'Liberation Sans','Noto Sans CJK SC',sans-serif" font-weight="normal" text-anchor="start" stroke="#111" stroke-width="0.25">楼H:</text>
<rect x="788.00" y="258.25" width="63.00" height="14.70" fill="#4f9eee" />
<text x="752.50" y="271.54" font-size="14.5" fill="#111" font-family="'Liberation Sans','Noto Sans CJK SC',sans-serif" font-weight="normal" text-anchor="start" stroke="#111" stroke-width="0.25">楼I:</text>
<rect x="788.00" y="285.75" width="63.00" height="14.70" fill="#0a2dff" />
<text x="752.50" y="298.22" font-size="14.5" fill="#111" font-family="'Liberation Sans','Noto Sans CJK SC',sans-serif" font-weight="normal" text-anchor="start" stroke="#111" stroke-width="0.25">楼J:</text>
<rect x="788.00" y="313.00" width="63.00" height="14.70" fill="#7a0aff" />
<text x="752.50" y="324.90" font-size="14.5" fill="#111" font-family="'Liberation Sans','Noto Sans CJK SC',sans-serif" font-weight="normal" text-anchor="start" stroke="#111" stroke-width="0.25">楼K:</text>
<rect x="788.00" y="339.50" width="63.00" height="14.70" fill="#ff14ff" />
<text x="752.50" y="351.58" font-size="14.5" fill="#111" font-family="'Liberation Sans','Noto Sans CJK SC',sans-serif" font-weight="normal" text-anchor="start" stroke="#111" stroke-width="0.25">楼L:</text>
<rect x="788.00" y="364.50" width="63.00" height="14.70" fill="#ff0558" />
<text x="752.50" y="378.26" font-size="14.5" fill="#111" font-family="'Liberation Sans','Noto Sans CJK SC',sans-serif" font-weight="normal" text-anchor="start" stroke="#111" stroke-width="0.25">楼M:</text>
<rect x="788.00" y="391.25" width="63.00" height="14.70" fill="#8e1c55" />
<text x="752.50" y="404.94" font-size="14.5" fill="#111" font-family="'Liberation Sans','Noto Sans CJK SC',sans-serif" font-weight="normal" text-anchor="start" stroke="#111" stroke-width="0.25">楼N:</text>
<rect x="788.00" y="418.75" width="63.00" height="14.70" fill="#482410" />
<text x="752.50" y="431.62" font-size="14.5" fill="#111" font-family="'Liberation Sans','Noto Sans CJK SC',sans-serif" font-weight="normal" text-anchor="start" stroke="#111" stroke-width="0.25">楼0:</text>
<rect x="787.30" y="446.25" width="65.20" height="14.50" fill="#bb7b57" />
<text x="755.00" y="457.40" font-size="11" fill="#111" font-family="'Liberation Serif','Noto Serif CJK SC',serif" font-weight="bold" text-anchor="start" >楼P</text>
<text x="776.00" y="456.80" font-size="11" fill="#111" font-family="'Liberation Serif','Noto Serif CJK SC',serif" font-weight="bold" text-anchor="start" >:</text>
<rect x="854.80" y="101.80" width="1.20" height="1.20" fill="#222" />
<rect x="854.80" y="112.00" width="1.20" height="2.00" fill="#222" />
<rect x="854.80" y="117.00" width="1.20" height="1.20" fill="#222" />
</svg></body></html>
